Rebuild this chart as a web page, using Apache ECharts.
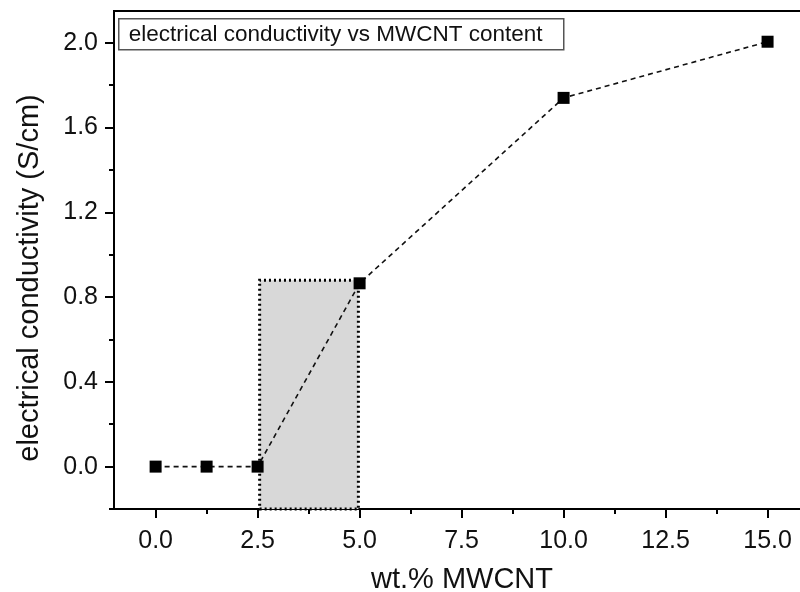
<!DOCTYPE html>
<html>
<head>
<meta charset="utf-8">
<script src="https://cdn.jsdelivr.net/npm/echarts@6/dist/echarts.min.js"></script>
<style>html,body{margin:0;padding:0;background:#fff}#c{width:800px;height:592px}</style>
</head>
<body>
<div id="c"></div>
<script>
var xValues = [0, 1.25, 2.5, 5, 10, 15];
var yValues = [0, 0, 0, 0.865, 1.74, 2.005];
var xMajorTicks = [0, 2.5, 5, 7.5, 10, 12.5, 15];
var xMinorTicks = [1.25, 3.75, 6.25, 8.75, 11.25, 13.75];
var yMajorTicks = [0, 0.4, 0.8, 1.2, 1.6, 2.0];
var yMinorTicks = [-0.2, 0.2, 0.6, 1.0, 1.4, 1.8];
var shadeRange = [[2.55, -0.2], [4.97, 0.88]];
var legendText = 'electrical conductivity vs MWCNT content';
var xName = 'wt.% MWCNT';
var yName = 'electrical conductivity (S/cm)';

var FONT = 'Liberation Sans, Arial, sans-serif';
var X_MIN = -1.02, X_MAX = 16.04, Y_MIN = -0.2, Y_MAX = 2.15;

var chart = echarts.init(document.getElementById('c'), null, {renderer: 'canvas'});
var data = xValues.map(function (x, i) { return [x, yValues[i]]; });

function fmt(v) { return Number(v).toFixed(1); }

var option = {
  backgroundColor: '#fff',
  animation: false,
  grid: {left: 114, top: 11, right: -10, bottom: 83, show: true, borderColor: '#000', borderWidth: 2, backgroundColor: 'transparent', containLabel: false, outerBoundsMode: 'none'},
  xAxis: [
    {
      type: 'value', position: 'bottom', min: X_MIN, max: X_MAX,
      axisLine: {show: true, onZero: false, lineStyle: {color: '#000', width: 2}},
      axisTick: {show: true, inside: false, length: 9, customValues: xMajorTicks, lineStyle: {color: '#000', width: 2}},
      axisLabel: {show: true, customValues: xMajorTicks, formatter: fmt, color: '#111', fontFamily: FONT, fontSize: 25, margin: 20},
      splitLine: {show: false},
      name: xName, nameLocation: 'middle', nameGap: 56,
      nameTextStyle: {color: '#111', fontFamily: FONT, fontSize: 29}
    },
    {
      type: 'value', position: 'bottom', min: X_MIN, max: X_MAX,
      axisLine: {show: false, onZero: false},
      axisTick: {show: true, inside: false, length: 5, customValues: xMinorTicks, lineStyle: {color: '#000', width: 2}},
      axisLabel: {show: false},
      splitLine: {show: false}
    }
  ],
  yAxis: [
    {
      type: 'value', position: 'left', min: Y_MIN, max: Y_MAX,
      axisLine: {show: true, onZero: false, lineStyle: {color: '#000', width: 2}},
      axisTick: {show: true, inside: false, length: 9, customValues: yMajorTicks, lineStyle: {color: '#000', width: 2}},
      axisLabel: {show: true, customValues: yMajorTicks, formatter: fmt, color: '#111', fontFamily: FONT, fontSize: 25, margin: 16},
      splitLine: {show: false},
      name: yName, nameLocation: 'middle', nameGap: 70, nameRotate: 90,
      nameTextStyle: {color: '#111', fontFamily: FONT, fontSize: 29, padding: [0, 36, 0, 0]}
    },
    {
      type: 'value', position: 'left', min: Y_MIN, max: Y_MAX,
      axisLine: {show: false, onZero: false},
      axisTick: {show: true, inside: false, length: 5, customValues: yMinorTicks, lineStyle: {color: '#000', width: 2}},
      axisLabel: {show: false},
      splitLine: {show: false}
    }
  ],
  series: [
    {
      type: 'line', xAxisIndex: 0, yAxisIndex: 0,
      data: data,
      symbol: 'rect', symbolSize: 12,
      itemStyle: {color: '#000'},
      lineStyle: {color: '#111', width: 1.6, type: [5, 4]},
      z: 5,
      markArea: {
        silent: true,
        itemStyle: {color: '#d8d8d8', borderColor: '#000', borderWidth: 3, borderType: [2, 3]},
        data: [[{xAxis: shadeRange[0][0], yAxis: shadeRange[0][1]}, {xAxis: shadeRange[1][0], yAxis: shadeRange[1][1]}]]
      }
    }
  ],
  graphic: [
    {
      type: 'group', left: 118, top: 18,
      children: [
        {type: 'rect', shape: {x: 0, y: 0, width: 445, height: 31}, style: {fill: '#fff', stroke: '#555', lineWidth: 1.5}},
        {type: 'text', x: 10, y: 16, style: {text: legendText, fill: '#111', font: '22.5px ' + FONT, verticalAlign: 'middle'}}
      ]
    }
  ]
};
chart.setOption(option);
</script>
</body>
</html>
